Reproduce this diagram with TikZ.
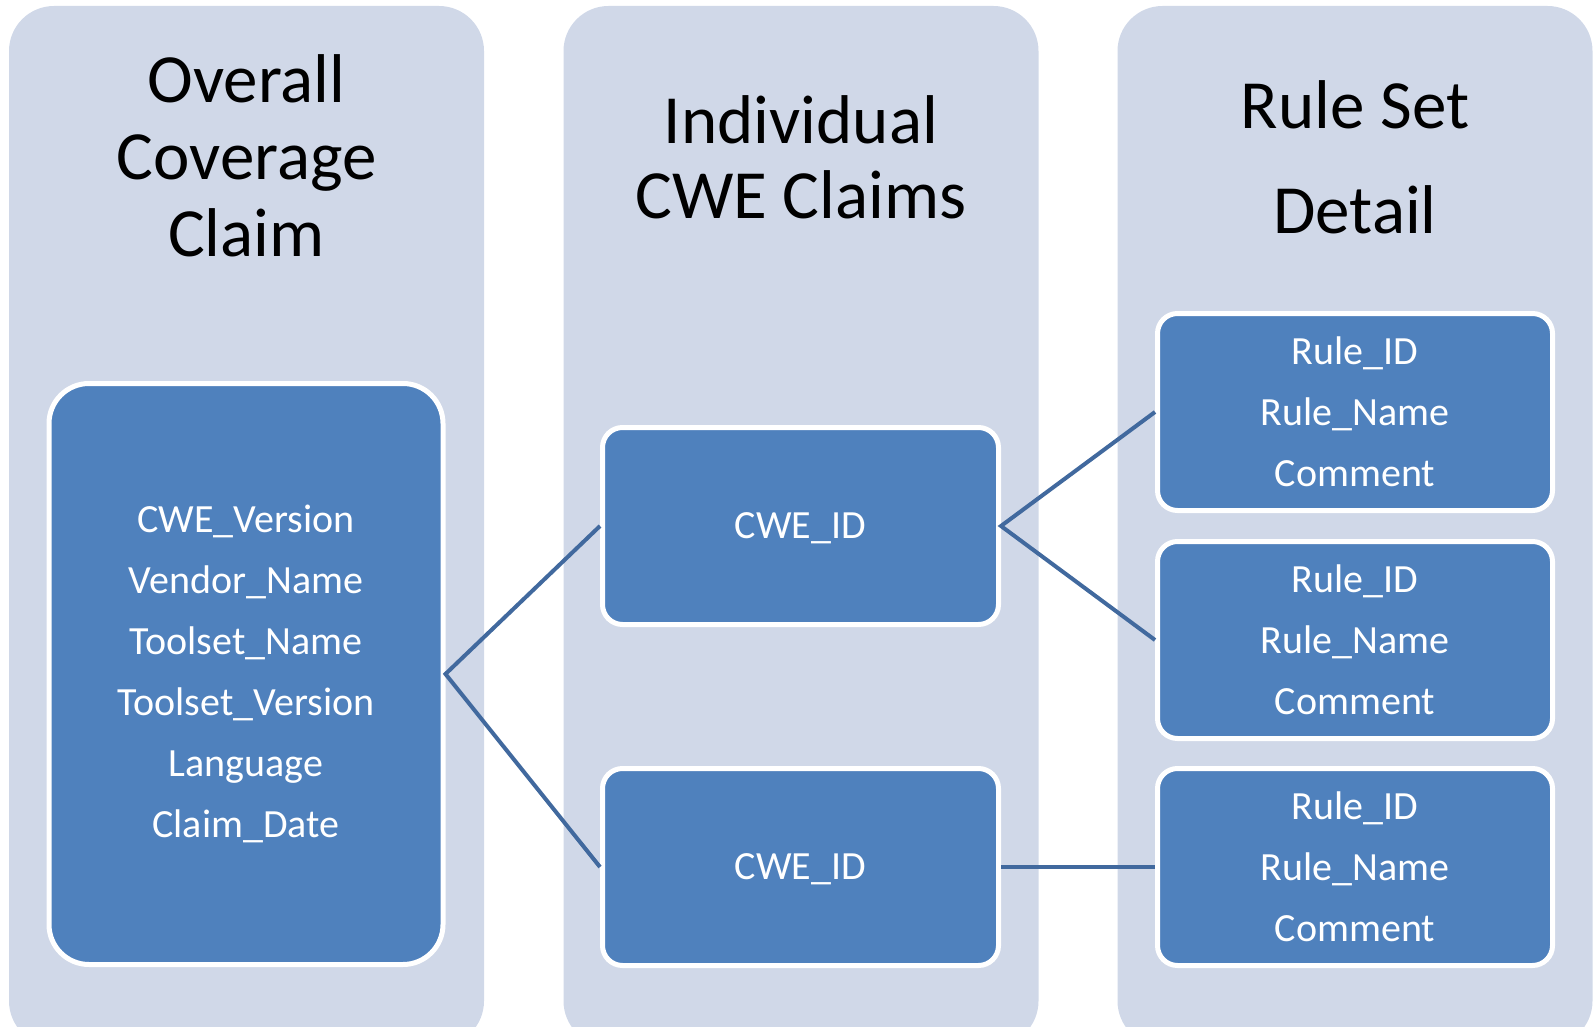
\documentclass[tikz,border=0pt]{standalone}
\usepackage{fontspec}
\setmainfont{Carlito}
\definecolor{colbg}{HTML}{D0D8E8}
\definecolor{boxfill}{HTML}{4F81BD}
\definecolor{linkc}{HTML}{41699E}
\begin{document}
\begin{tikzpicture}[x=1pt,y=-1pt,
  column/.style={fill=colbg, draw=none, rounded corners=45pt, minimum width=475pt, minimum height=1040pt, inner sep=0pt},
  title/.style={text=black, align=center, inner sep=0pt},
  bluebox/.style={fill=boxfill, draw=white, line width=5pt, rounded corners=20pt, inner sep=0pt, text=white, align=center, font=\fontsize{40}{61}\selectfont},
  link/.style={draw=linkc, line width=4pt}
]
\useasboundingbox (0,0) rectangle (1593,1027);
\node[column] (c1) at (246.5,526) {};
\node[column] (c2) at (801,526) {};
\node[column] (c3) at (1355,526) {};

\node[title, font=\fontsize{69}{77}\selectfont] (t1) at (246.5,156) {Overall\\Coverage\\Claim};
\node[title, font=\fontsize{69}{75}\selectfont] (t2) at (801,157.5) {Individual\\CWE Claims};
\node[title, font=\fontsize{69}{105}\selectfont] (t3) at (1355,157) {Rule Set\\Detail};

\node[bluebox, rounded corners=40pt, minimum width=394pt, minimum height=581pt] (big) at (246,674)
  {CWE\_Version\\Vendor\_Name\\Toolset\_Name\\Toolset\_Version\\Language\\Claim\_Date};

\node[bluebox, minimum width=396pt, minimum height=197pt, text depth=0pt] (cwe1) at (800.5,526) {CWE\_ID};
\node[bluebox, minimum width=396pt, minimum height=197pt, text depth=0pt] (cwe2) at (800.5,867) {CWE\_ID};

\node[bluebox, minimum width=395pt, minimum height=197pt] (r1) at (1355,412) {Rule\_ID\\Rule\_Name\\Comment};
\node[bluebox, minimum width=395pt, minimum height=197pt] (r2) at (1355,640) {Rule\_ID\\Rule\_Name\\Comment};
\node[bluebox, minimum width=395pt, minimum height=197pt] (r3) at (1355,867) {Rule\_ID\\Rule\_Name\\Comment};

\draw[link] (cwe1.west) -- (big.east) -- (cwe2.west);
\draw[link] (r1.west) -- (cwe1.east) -- (r2.west);
\draw[link] (cwe2.east) -- (r3.west);
\end{tikzpicture}
\end{document}
